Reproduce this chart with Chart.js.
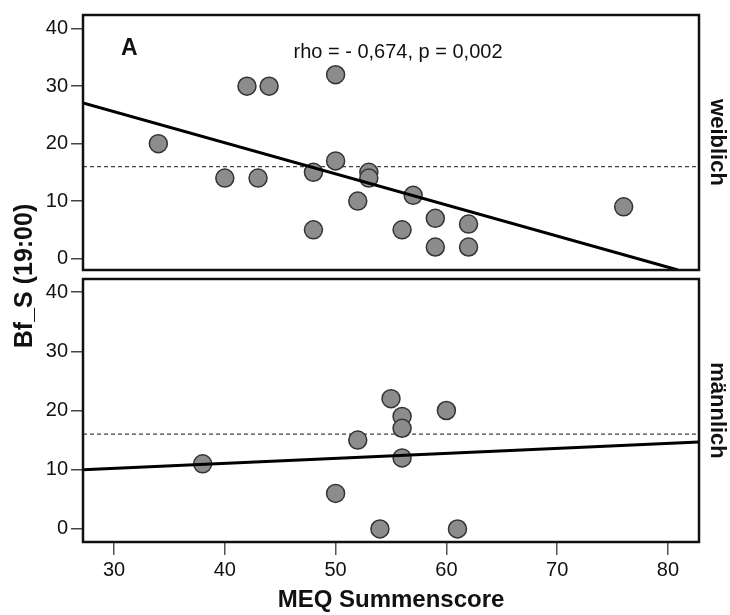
<!DOCTYPE html>
<html lang="de">
<head>
<meta charset="utf-8">
<title>MEQ Summenscore / Bf_S (19:00)</title>
<script src="https://cdn.jsdelivr.net/npm/chart.js@4.4.1/dist/chart.umd.min.js"></script>
<style>
  html, body { margin: 0; padding: 0; background: #fff; }
  #wrap { position: relative; width: 730px; height: 615px; }
  #wrap canvas { position: absolute; left: 0; top: 0; }
</style>
</head>
<body>
<div id="wrap">
  <canvas id="panelW" width="730" height="615"></canvas>
  <canvas id="panelM" width="730" height="615"></canvas>
</div>
<script>
// MEQ-Summenscore (x) gegen Bf_S um 19:00 (y), getrennt nach Geschlecht
const xTicks = [30, 40, 50, 60, 70, 80];
const yTicks = [0, 10, 20, 30, 40];

const weiblichMEQ = [34, 42, 44, 50, 40, 43, 48, 48, 50, 52, 53, 53, 56, 57, 59, 59, 62, 62, 76];
const weiblichBf  = [20, 30, 30, 32, 14, 14, 15,  5, 17, 10, 15, 14,  5, 11,  7,  2,  6,  2,  9];

const maennlichMEQ = [38, 50, 52, 54, 55, 56, 56, 56, 60, 61];
const maennlichBf  = [11,  6, 15,  0, 22, 19, 17, 12, 20,  0];

// Regressionsgeraden, als Endpunkte
const weiblichFitX  = [27.2, 80.9];
const weiblichFitY  = [27.1, -2];
const maennlichFitX = [27.2, 82.8];
const maennlichFitY = [10.0, 14.7];

const cutoff = 16;
const xRange = [27.2, 82.8];

Chart.defaults.font.family = '"Liberation Sans", Arial, sans-serif';
Chart.defaults.color = '#111';

const toPoints = (xs, ys) => xs.map((x, i) => ({ x: x, y: ys[i] }));

// Rahmen um die Plotfläche
const frame = {
  id: 'frame',
  afterDatasetsDraw(chart) {
    const { ctx, chartArea: a } = chart;
    ctx.save();
    ctx.strokeStyle = '#111';
    ctx.lineWidth = 2.5;
    ctx.strokeRect(a.left, a.top, a.right - a.left, a.bottom - a.top);
    ctx.restore();
  }
};

// Beschriftungen im oberen Panel + gemeinsame y-Achsenbeschriftung
const labels = {
  id: 'labels',
  afterDraw(chart) {
    const { ctx, chartArea: a } = chart;
    ctx.save();
    ctx.fillStyle = '#111';
    ctx.textBaseline = 'alphabetic';
    ctx.font = 'bold 23px "Liberation Sans", Arial, sans-serif';
    ctx.textAlign = 'left';
    ctx.fillText('A', a.left + 38, a.top + 40);
    ctx.font = '20px "Liberation Sans", Arial, sans-serif';
    ctx.textAlign = 'center';
    ctx.fillText('rho = - 0,674, p = 0,002', a.left + 315, a.top + 43);

    ctx.translate(25, 276);
    ctx.rotate(-Math.PI / 2);
    ctx.font = 'bold 25px "Liberation Sans", Arial, sans-serif';
    ctx.textBaseline = 'middle';
    ctx.fillText('Bf_S (19:00)', 0, 0);
    ctx.restore();
  }
};

function yScale(min, max) {
  return {
    type: 'linear',
    min: min,
    max: max,
    afterBuildTicks: s => { s.ticks = yTicks.map(v => ({ value: v })); },
    afterFit: s => { s.width = 83; },
    grid: { drawOnChartArea: false, tickLength: 12, color: '#444', lineWidth: 1.5 },
    border: { display: false },
    ticks: { padding: 3, font: { size: 20 } }
  };
}

function sideScale(text) {
  return {
    type: 'linear',
    axis: 'y',
    position: 'right',
    afterFit: s => { s.width = 31; },
    ticks: { display: false },
    grid: { display: false },
    border: { display: false },
    title: { display: true, text: text, padding: 0, font: { size: 22, weight: 'bold' } }
  };
}

function datasets(xs, ys, fitX, fitY) {
  return [
    {
      type: 'scatter',
      data: toPoints(xs, ys),
      pointRadius: 9,
      pointBackgroundColor: '#8c8c8c',
      pointBorderColor: '#333',
      pointBorderWidth: 1.5,
      order: 1
    },
    {
      type: 'line',
      data: toPoints(fitX, fitY),
      showLine: true,
      borderColor: '#000',
      borderWidth: 3,
      pointRadius: 0,
      fill: false,
      order: 0
    },
    {
      type: 'line',
      data: toPoints(xRange, [cutoff, cutoff]),
      showLine: true,
      borderColor: '#444',
      borderWidth: 1.2,
      borderDash: [4, 3],
      pointRadius: 0,
      fill: false,
      order: 2
    }
  ];
}

const common = {
  responsive: false,
  animation: false,
  events: [],
  plugins: { legend: { display: false }, tooltip: { enabled: false } }
};

// oberes Panel: weiblich
new Chart(document.getElementById('panelW'), {
  type: 'scatter',
  data: { datasets: datasets(weiblichMEQ, weiblichBf, weiblichFitX, weiblichFitY) },
  options: Object.assign({}, common, {
    layout: { padding: { top: 8, bottom: 345, left: 0, right: 0 } },
    scales: {
      x: { type: 'linear', display: false, min: xRange[0], max: xRange[1] },
      y: yScale(-2, 42.4),
      side: sideScale('weiblich')
    }
  }),
  plugins: [frame, labels]
});

// unteres Panel: männlich, mit x-Achse
new Chart(document.getElementById('panelM'), {
  type: 'scatter',
  data: { datasets: datasets(maennlichMEQ, maennlichBf, maennlichFitX, maennlichFitY) },
  options: Object.assign({}, common, {
    layout: { padding: { top: 279, bottom: 0, left: 0, right: 0 } },
    scales: {
      x: {
        type: 'linear',
        min: xRange[0],
        max: xRange[1],
        afterBuildTicks: s => { s.ticks = xTicks.map(v => ({ value: v })); },
        afterFit: s => { s.height = 73; },
        grid: { drawOnChartArea: false, tickLength: 13, color: '#555', lineWidth: 1.5 },
        border: { display: false },
        ticks: { padding: 3, maxRotation: 0, autoSkip: false, font: { size: 20 } },
        title: { display: true, text: 'MEQ Summenscore', padding: { top: 0, bottom: 0 }, font: { size: 24, weight: 'bold' } }
      },
      y: yScale(-2.2, 42.2),
      side: sideScale('männlich')
    }
  }),
  plugins: [frame]
});
</script>
</body>
</html>
